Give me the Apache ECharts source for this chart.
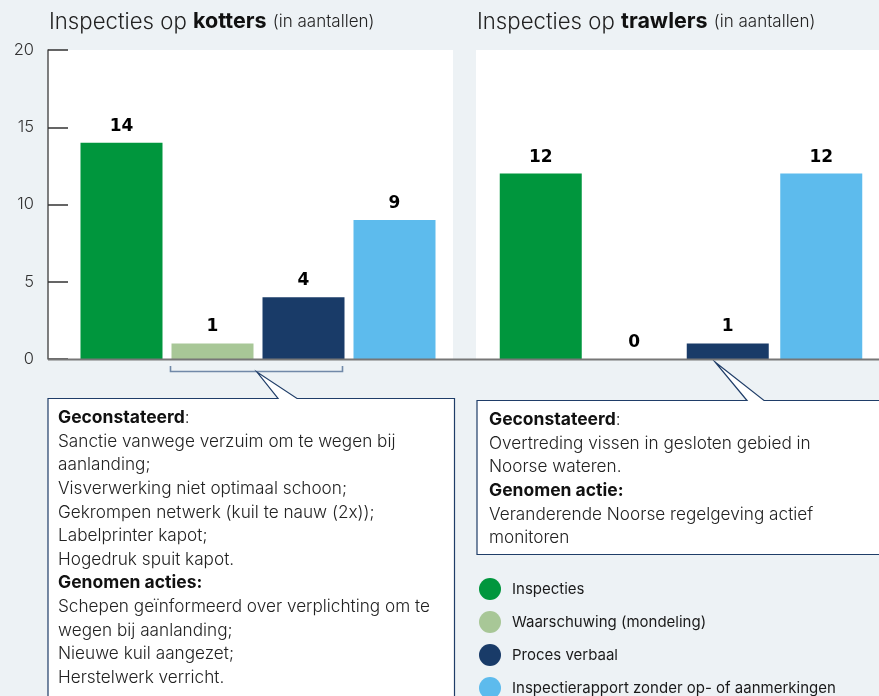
<!DOCTYPE html>
<html>
<head>
<meta charset="utf-8">
<script src="https://cdn.jsdelivr.net/npm/echarts@6/dist/echarts.min.js"></script>
<style>
  html, body { margin: 0; padding: 0; background: #edf2f5; }
  #chart { width: 879px; height: 696px; }
</style>
</head>
<body>
<div id="chart"></div>
<script>
// Inspection results per vessel type
const categories = [
  'Inspecties',
  'Waarschuwing (mondeling)',
  'Proces verbaal',
  'Inspectierapport zonder op- of aanmerkingen'
];
const kottersValues = [14, 1, 4, 9];
const trawlersValues = [12, 0, 1, 12];
const yTicks = [0, 5, 10, 15, 20];
const colors = ['#00963d', '#a8c797', '#193b68', '#5dbbed'];

const kottersNotes = [
  ['b', 'Geconstateerd', ':'],
  ['r', 'Sanctie vanwege verzuim om te wegen bij'],
  ['r', 'aanlanding;'],
  ['r', 'Visverwerking niet optimaal schoon;'],
  ['r', 'Gekrompen netwerk (kuil te nauw (2x));'],
  ['r', 'Labelprinter kapot;'],
  ['r', 'Hogedruk spuit kapot.'],
  ['b', 'Genomen acties:'],
  ['r', 'Schepen geïnformeerd over verplichting om te'],
  ['r', 'wegen bij aanlanding;'],
  ['r', 'Nieuwe kuil aangezet;'],
  ['r', 'Herstelwerk verricht.']
];
const trawlersNotes = [
  ['b', 'Geconstateerd', ':'],
  ['r', 'Overtreding vissen in gesloten gebied in'],
  ['r', 'Noorse wateren.'],
  ['b', 'Genomen actie:'],
  ['r', 'Veranderende Noorse regelgeving actief'],
  ['r', 'monitoren']
];

const FONT = 'Inter';
const chart = echarts.init(document.getElementById('chart'));

function notesText(lines) {
  return lines.map(l => '{' + l[0] + '|' + l[1] + '}' + (l[2] ? '{r|' + l[2] + '}' : '')).join('\n');
}
const noteRich = {
  b: { fontFamily: FONT, fontWeight: 'bold', fontSize: 17.5, lineHeight: 23.6, fill: '#111' },
  r: { fontFamily: FONT, fontWeight: 300, fontSize: 17.2, lineHeight: 23.6, fill: '#222' }
};

function makeSeries(values, gridIdx) {
  return categories.map((name, i) => ({
    name: name,
    type: 'bar',
    xAxisIndex: gridIdx,
    yAxisIndex: gridIdx,
    barWidth: 82,
    barGap: '-100%',
    itemStyle: { color: colors[i] },
    label: {
      show: true,
      position: 'top',
      distance: 8,
      fontFamily: 'DejaVu Sans',
      fontWeight: 'bold',
      fontSize: 17,
      color: '#000'
    },
    emphasis: { disabled: true },
    data: categories.map((c, j) => (j === i ? values[j] : '-'))
  }));
}

const titleRich = {
  b: { fontFamily: FONT, fontWeight: 'bold', fontSize: 21.5, color: '#111' },
  s: { fontFamily: FONT, fontWeight: 300, fontSize: 17, color: '#222' }
};

const option = {
  backgroundColor: '#edf2f5',
  animation: false,
  title: [
    { left: 44, top: 6, text: 'Inspecties op {b|kotters} {s|(in aantallen)}',
      textStyle: { fontFamily: FONT, fontWeight: 300, fontSize: 22.2, color: '#222', rich: titleRich } },
    { left: 472, top: 6, text: 'Inspecties op {b|trawlers} {s|(in aantallen)}',
      textStyle: { fontFamily: FONT, fontWeight: 300, fontSize: 22.2, color: '#222', rich: titleRich } }
  ],
  legend: {
    orient: 'vertical',
    left: 479,
    top: 578,
    height: 160,
    itemWidth: 22,
    itemHeight: 22,
    itemGap: 11,
    icon: 'circle',
    padding: 0,
    selectedMode: false,
    data: categories,
    textStyle: { fontFamily: FONT, fontSize: 15, color: '#1a1a1a', padding: [0, 0, 0, 6] }
  },
  grid: [
    { left: 76, width: 364, top: 50, bottom: 337 },
    { left: 494, width: 374, top: 50, bottom: 337 }
  ],
  xAxis: [0, 1].map(g => ({
    type: 'category',
    gridIndex: g,
    data: categories,
    axisLine: { show: false },
    axisTick: { show: false },
    axisLabel: { show: false }
  })),
  yAxis: [
    {
      type: 'value', gridIndex: 0, min: yTicks[0], max: yTicks[yTicks.length - 1], interval: 5,
      offset: 28,
      axisLine: { show: true, lineStyle: { color: '#555', width: 1.5 } },
      axisTick: { show: true, inside: true, length: 20, lineStyle: { color: '#333', width: 1.5 } },
      axisLabel: { margin: 14, fontFamily: FONT, fontWeight: 300, fontSize: 16.5, color: '#333' },
      splitLine: { show: false }
    },
    {
      type: 'value', gridIndex: 1, min: 0, max: 20, interval: 5, show: false
    }
  ],
  graphic: [
    // white plot panels
    { type: 'rect', z: -10, silent: true, shape: { x: 48, y: 50, width: 405, height: 309 }, style: { fill: '#fff' } },
    { type: 'rect', z: -10, silent: true, shape: { x: 476, y: 50, width: 403, height: 309 }, style: { fill: '#fff' } },
    // shared baseline
    { type: 'line', z: 5, silent: true, shape: { x1: 48, y1: 359.5, x2: 879, y2: 359.5 }, style: { stroke: '#777', lineWidth: 2 } },
    // bracket under warning + report bars
    { type: 'polyline', silent: true, shape: { points: [[170.5, 366], [170.5, 371.5], [342.5, 371.5], [342.5, 366]] },
      style: { stroke: '#7189a8', lineWidth: 1.6, fill: null } },
    // callout boxes
    { type: 'polygon', silent: true,
      shape: { points: [[48, 398.5], [278, 398.5], [257, 372], [297, 398.5], [454.5, 398.5], [454.5, 720], [48, 720]] },
      style: { fill: '#fff', stroke: '#1f3d68', lineWidth: 1.2 } },
    { type: 'polygon', silent: true,
      shape: { points: [[477, 400.5], [747, 400.5], [715, 362], [764, 400.5], [890, 400.5], [890, 554.5], [477, 554.5]] },
      style: { fill: '#fff', stroke: '#1f3d68', lineWidth: 1.2 } },
    { type: 'text', silent: true, left: 58, top: 409,
      style: { text: notesText(kottersNotes), rich: noteRich } },
    { type: 'text', silent: true, left: 489, top: 411,
      style: { text: notesText(trawlersNotes), rich: noteRich } }
  ],
  series: makeSeries(kottersValues, 0).concat(makeSeries(trawlersValues, 1))
};

chart.setOption(option);
</script>
</body>
</html>
